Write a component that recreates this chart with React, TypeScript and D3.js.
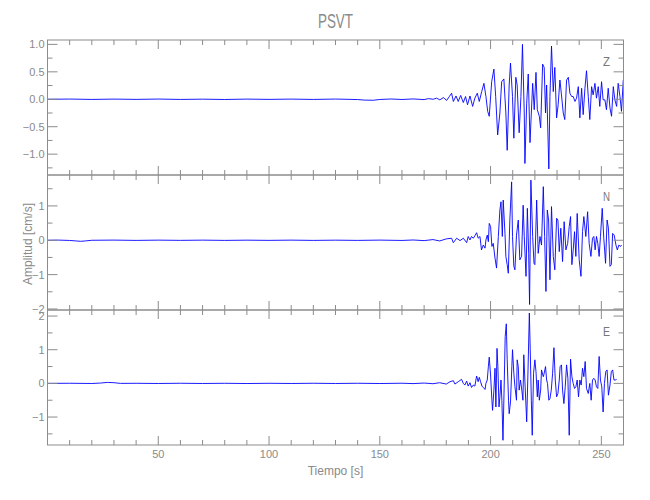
import React from "react";
import * as d3 from "d3";

const titleText = "PSVT";
const xLabel = "Tiempo [s]";
const yLabel = "Amplitud [cm/s]";
const componentNames = ["Z", "N", "E"];
const xDomain = [0, 260];
const xMajorTicks = [50, 100, 150, 200, 250];
const xMinorStep = 10;

const zDomain = [-1.38, 1.08];
const nDomain = [-2.03, 1.9];
const eDomain = [-1.83, 2.18];
const zMajorTicks = [-1, -0.5, 0, 0.5, 1];
const zMinorTicks = [-1.25, -0.75, -0.25, 0.25, 0.75];
const zTickLabels = ["\u22121.0", "\u22120.5", "0.0", "0.5", "1.0"];
const nMajorTicks = [-2, -1, 0, 1];
const nMinorTicks = [-1.5, -0.5, 0.5, 1.5];
const nTickLabels = ["\u22122", "\u22121", "0", "1"];
const eMajorTicks = [-1, 0, 1, 2];
const eMinorTicks = [-1.5, -0.5, 0.5, 1.5];
const eTickLabels = ["\u22121", "0", "1", "2"];

const compZ: [number, number][] = [[0,0],[10,0.004],[20,-0.003],[30,0.003],[40,-0.002],[50,0.004],[60,-0.003],[70,0.002],[80,-0.004],[90,0.003],[100,-0.002],[110,0.003],[120,-0.003],[130,0.004],[140,-0.005],[143,-0.015],[147,-0.018],[150,-0.004],[155,0.005],[160,-0.004],[165,0.006],[170,-0.006],[172,0.012],[174.1,0],[175.6,0.02],[177.1,-0.01],[178.7,0.03],[180.2,-0.02],[181.4,0.05],[182.4,0.11],[183.2,-0.04],[184.4,0.06],[185.4,-0.04],[186.5,0.07],[187.7,-0.06],[188.7,0.05],[189.6,-0.1],[190.7,0.06],[191.9,-0.13],[192.9,0.02],[194.0,0.11],[194.9,-0.04],[196.0,0.14],[197.0,0.29],[197.9,0.05],[198.7,-0.22],[199.4,-0.31],[200.5,0.32],[201.5,0.55],[202.3,0.05],[203.2,-0.65],[204.2,-0.25],[205.0,0.32],[206.0,0.37],[206.9,-0.25],[207.5,-0.93],[208.4,0.26],[209.0,0.66],[209.9,0.05],[210.5,-0.71],[211.4,0.4],[212.0,0.26],[212.9,-0.61],[213.7,0.05],[214.4,1.0],[215.2,-0.25],[215.5,-1.17],[216.3,-0.07],[217.0,0.46],[217.8,-0.79],[219.0,0.29],[219.7,-0.19],[220.5,0.49],[221.1,-0.19],[222.0,-0.31],[222.6,-0.52],[223.5,0.64],[224.2,0.58],[224.8,-0.25],[225.3,0.26],[226.3,-1.27],[226.8,0.05],[227.5,0.97],[228.3,0.14],[229.0,0.58],[229.8,-0.34],[230.5,-0.1],[231.3,0.35],[232.0,0.08],[232.8,-0.25],[233.5,-0.37],[234.3,0.35],[235.1,0.4],[235.8,0.11],[236.6,0.05],[237.3,0.05],[238.1,-0.04],[238.8,0.02],[239.6,0.23],[240.3,-0.34],[241.1,0.2],[241.8,-0.28],[242.6,0.2],[243.3,0.52],[244.1,0.05],[244.8,-0.37],[245.6,0.23],[246.3,0.08],[247.1,0.29],[247.8,0.02],[248.6,0.23],[249.3,-0.13],[250.1,0.32],[250.8,-0.01],[251.6,-0.01],[252.3,-0.19],[253.1,0.2],[253.9,-0.16],[254.6,-0.31],[255.4,0.23],[256.1,-0.01],[256.9,-0.13],[257.6,0.29],[258.4,0.05],[259.1,-0.22],[259.9,0.35]];

const compN: [number, number][] = [[0,0],[5,0.005],[10,-0.005],[13,-0.02],[15,-0.03],[17,-0.02],[20,0],[30,0.005],[40,-0.004],[50,0.004],[60,-0.003],[70,0.004],[80,-0.004],[90,0.003],[100,-0.003],[110,0.004],[120,-0.004],[130,0.003],[140,-0.004],[150,0.005],[160,-0.005],[165,0.008],[170,-0.01],[174,0.02],[177,-0.02],[180,0.04],[182.4,0.06],[183.2,-0.07],[184.7,0.06],[186.2,-0.01],[187.7,0.06],[189.2,-0.07],[189.9,0.11],[190.7,0.01],[191.4,0.11],[192.2,0.06],[192.9,0.13],[193.7,0.22],[194.4,0.06],[195.2,0.11],[195.9,-0.28],[196.7,-0.14],[197.5,-0.23],[197.9,0.01],[198.5,0.15],[199.0,-0.04],[199.4,0.49],[200.0,0.4],[200.6,-0.18],[201.2,-0.09],[202.0,-0.52],[202.7,-0.81],[203.5,0.11],[204.2,0.88],[204.7,1.12],[205.3,0.11],[205.7,1.17],[206.5,0.2],[206.9,-0.47],[207.5,-0.71],[208.0,-0.96],[208.7,0.59],[209.5,1.7],[209.9,0.11],[210.5,-0.76],[211.0,-0.86],[211.7,0.15],[212.5,0.59],[213.2,-0.57],[214.0,-0.47],[214.7,1.02],[215.2,0.11],[216.0,-1.05],[216.6,0.93],[217.2,-0.38],[217.6,-1.87],[218.2,1.75],[219.0,0.11],[219.6,-0.67],[220.0,-0.71],[220.8,1.17],[221.5,-0.38],[222.3,0.11],[223.0,-0.14],[223.8,1.56],[224.4,0.11],[225.0,-1.49],[225.6,0.88],[226.2,0.59],[226.8,-1.15],[227.5,0.98],[228.3,-0.47],[229.0,-0.86],[229.8,0.64],[230.4,0.59],[231.0,-0.33],[231.7,0.35],[232.5,-0.62],[233.2,0.54],[234.0,-0.28],[234.8,-0.09],[235.5,0.4],[236.1,0.69],[236.7,-0.71],[237.3,-0.28],[237.9,0.25],[238.5,-0.47],[239.1,0.78],[240.0,-0.57],[240.8,-1.05],[241.5,0.25],[242.1,0.69],[243.0,0.11],[243.8,0.83],[244.5,-0.09],[245.3,-0.47],[246.0,0.06],[246.6,0.11],[247.2,-0.28],[247.8,0.11],[248.4,-0.09],[249.0,-0.47],[249.6,0.11],[250.4,0.93],[251.1,0.06],[251.9,-0.67],[252.6,0.59],[253.2,0.35],[253.9,-0.76],[254.5,-0.71],[255.1,0.2],[255.8,0.15],[256.6,-0.14],[257.2,-0.28],[257.9,-0.14],[258.7,-0.18],[259.1,-0.14]];

const compE: [number, number][] = [[0,0],[10,0.004],[20,-0.003],[24,0.01],[27,0.03],[30,0.02],[33,0],[40,0.003],[50,-0.003],[60,0.004],[70,-0.003],[80,0.003],[90,-0.004],[100,0.003],[110,-0.003],[120,0.004],[130,-0.003],[140,0.004],[150,-0.004],[160,0.005],[165,-0.006],[170,0.01],[174,-0.01],[177,0.02],[180,-0.02],[181.7,0.05],[183.2,0.08],[183.9,-0.02],[185.4,0.05],[186.9,0.12],[187.7,0],[188.4,-0.05],[189.2,0.07],[189.9,-0.08],[190.7,0.02],[191.4,-0.12],[192.2,-0.05],[192.9,-0.08],[193.7,0.22],[194.4,0.05],[194.9,0.18],[195.5,0.05],[196.1,-0.08],[196.7,-0.12],[197.5,-0.18],[197.9,0],[198.5,0.1],[199.0,0.5],[199.4,0.78],[200.0,0.25],[200.6,-0.5],[200.9,-0.8],[201.5,-0.2],[202.0,0.45],[202.4,-0.7],[202.9,1.04],[203.3,0.5],[203.8,-0.7],[204.2,-0.4],[204.7,0.1],[205.1,-0.5],[205.6,-1.69],[206.2,0.1],[206.6,1.39],[207.1,1.77],[207.5,0.7],[208.1,-0.5],[208.4,-0.9],[209.0,-0.55],[209.6,0.5],[209.9,1.0],[210.5,0.3],[211.0,-0.1],[211.7,-0.5],[212.0,0.7],[212.5,0.5],[212.9,-0.2],[213.5,0.1],[214.1,-0.2],[214.6,-0.5],[215.0,0.85],[215.6,-0.1],[216.3,-1.14],[216.9,0.4],[217.5,2.09],[217.9,1.0],[218.4,-0.5],[218.8,-1.54],[219.4,0.3],[220.0,0.7],[220.5,0.35],[221.1,-0.4],[221.5,0.1],[222.0,-0.5],[222.6,-0.2],[223.0,0.4],[223.8,0.2],[224.2,0.3],[224.8,0.5],[225.3,0.1],[225.7,0],[226.3,-0.5],[226.8,-0.45],[227.4,-0.2],[228.0,0.3],[228.6,1.06],[229.2,0.1],[229.8,-0.4],[230.4,-0.3],[231.0,0.1],[231.4,0.5],[232.0,0.55],[232.5,-0.2],[233.1,-0.6],[233.7,-0.1],[234.3,0.55],[234.9,0.15],[235.5,-1.54],[236.1,0.72],[236.7,0.2],[237.3,0],[237.9,-0.15],[238.5,-0.1],[239.1,0.1],[239.7,-0.4],[240.3,0.1],[240.9,-0.05],[241.5,0.45],[242.1,0.2],[242.7,0.65],[243.3,-0.15],[244.1,-0.3],[244.8,0],[245.4,-0.5],[246.0,0.1],[246.6,0.15],[247.2,0.1],[247.8,-0.1],[248.4,-0.15],[249.0,0.8],[249.6,0.1],[250.2,-0.1],[250.8,-0.85],[251.4,0],[252.0,0.35],[252.6,0.4],[253.2,-0.35],[253.9,-0.05],[254.5,0.35],[255.1,0.4],[255.7,0.1],[256.3,0.1],[256.9,0.12]];

const W = 650;
const H = 500;
const left = 47.5;
const right = 623.5;
const panelTop = 40;
const panelH = 135;
const axisColor = "#8c8c8c";
const textColor = "#8a8a8a";
const lineColor = "#0000ff";
const font = "'Liberation Sans', Arial, sans-serif";

type Panel = {
  name: string;
  data: [number, number][];
  domain: number[];
  major: number[];
  minor: number[];
  labels: string[];
};

const panels: Panel[] = [
  { name: componentNames[0], data: compZ, domain: zDomain, major: zMajorTicks, minor: zMinorTicks, labels: zTickLabels },
  { name: componentNames[1], data: compN, domain: nDomain, major: nMajorTicks, minor: nMinorTicks, labels: nTickLabels },
  { name: componentNames[2], data: compE, domain: eDomain, major: eMajorTicks, minor: eMinorTicks, labels: eTickLabels },
];

export default function App() {
  const x = d3.scaleLinear().domain(xDomain).range([left, right]);
  const xMinor = d3.range(xDomain[0] + xMinorStep, xDomain[1], xMinorStep).filter((t) => !xMajorTicks.includes(t));

  return (
    <svg width={W} height={H} style={{ position: "absolute", left: 0, top: 0, background: "#fff" }} fontFamily={font}>
      <text x={(left + right) / 2} y={28} textAnchor="middle" fontSize={20} fill={textColor} textLength={35} lengthAdjust="spacingAndGlyphs">{titleText}</text>
      {panels.map((p, i) => {
        const top = panelTop + i * panelH;
        const bottom = top + panelH;
        const y = d3.scaleLinear().domain(p.domain).range([bottom, top]);
        const line = d3.line<[number, number]>().x((d) => x(d[0])).y((d) => y(d[1]));
        const isLast = i === panels.length - 1;
        return (
          <g key={p.name}>
            <defs>
              <clipPath id={`clip${i}`}>
                <rect x={left} y={top} width={right - left} height={panelH} />
              </clipPath>
            </defs>
            <path d={line(p.data) || ""} fill="none" stroke={lineColor} strokeWidth={0.9} clipPath={`url(#clip${i})`} />
            <rect x={left} y={top} width={right - left} height={panelH} fill="none" stroke={axisColor} strokeWidth={1} />
            {xMajorTicks.map((t) => (
              <g key={`xm${t}`}>
                <line x1={x(t)} x2={x(t)} y1={top} y2={top + 9} stroke={axisColor} />
                <line x1={x(t)} x2={x(t)} y1={bottom} y2={bottom - 9} stroke={axisColor} />
              </g>
            ))}
            {xMinor.map((t) => (
              <g key={`xn${t}`}>
                <line x1={x(t)} x2={x(t)} y1={top} y2={top + 5} stroke={axisColor} />
                <line x1={x(t)} x2={x(t)} y1={bottom} y2={bottom - 5} stroke={axisColor} />
              </g>
            ))}
            {p.major.map((v, k) => (
              <g key={`ym${v}`}>
                <line x1={left} x2={left + 10} y1={y(v)} y2={y(v)} stroke={axisColor} />
                <line x1={right} x2={right - 10} y1={y(v)} y2={y(v)} stroke={axisColor} />
                <text x={left - 3} y={y(v)} dy="0.36em" textAnchor="end" fontSize={11} fill={textColor}>{p.labels[k]}</text>
              </g>
            ))}
            {p.minor.map((v) => (
              <g key={`yn${v}`}>
                <line x1={left} x2={left + 5} y1={y(v)} y2={y(v)} stroke={axisColor} />
                <line x1={right} x2={right - 5} y1={y(v)} y2={y(v)} stroke={axisColor} />
              </g>
            ))}
            <text x={603} y={top + 26} fontSize={13} fill="#777" textLength={7} lengthAdjust="spacingAndGlyphs">{p.name}</text>
            {isLast && xMajorTicks.map((t) => (
              <text key={`xl${t}`} x={x(t)} y={458} textAnchor="middle" fontSize={11} fill={textColor}>{t}</text>
            ))}
          </g>
        );
      })}
      <text x={(left + right) / 2} y={475} textAnchor="middle" fontSize={12} fill={textColor}>{xLabel}</text>
      <text transform={`translate(31.5,244) rotate(-90)`} textAnchor="middle" fontSize={12} fill={textColor}>{yLabel}</text>
    </svg>
  );
}
